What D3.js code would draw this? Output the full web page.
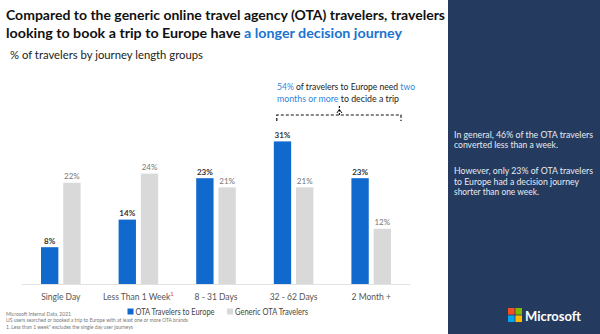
<!DOCTYPE html>
<html><head><meta charset="utf-8">
<script src="https://cdn.jsdelivr.net/npm/d3@7"></script>
<style>html,body{margin:0;padding:0;background:#fff;}svg{display:block;font-family:Lato,"Open Sans",sans-serif;}</style>
</head><body>
<svg id="c" width="600" height="334"></svg>
<script>
const categories = ["Single Day", "Less Than 1 Week", "8 - 31 Days", "32 - 62 Days", "2 Month +"];
const seriesNames = ["OTA Travelers to Europe", "Generic OTA Travelers"];
const europeValues = [8, 14, 23, 31, 23];
const genericValues = [22, 24, 21, 21, 12];
const seriesColors = ["#1169CD", "#D9D9D9"];

const svg = d3.select("#c");
const FF = "Lato,'Open Sans',sans-serif";
// right panel
svg.append("rect").attr("x", 448).attr("y", 0).attr("width", 152).attr("height", 334).attr("fill", "#243A5E");

// title
svg.append("text").attr("x", 6).attr("y", 20).attr("font-size", 14).attr("font-weight", 700).attr("fill", "#111")
  .attr("textLength", 439).attr("lengthAdjust", "spacingAndGlyphs")
  .text("Compared to the generic online travel agency (OTA) travelers, travelers");
const t2 = svg.append("text").attr("x", 6).attr("y", 37.5).attr("font-size", 14).attr("font-weight", 700).attr("fill", "#111").attr("textLength", 396).attr("lengthAdjust", "spacingAndGlyphs");
t2.append("tspan").text("looking to book a trip to Europe have ");
t2.append("tspan").attr("fill", "#1A73CF").text("a longer decision journey");

svg.append("text").attr("x", 10).attr("y", 59).attr("font-size", 10.5).attr("fill", "#222")
  .attr("textLength", 193).attr("lengthAdjust", "spacingAndGlyphs").text("% of travelers by journey length groups");

// scales
const x0 = d3.scaleBand().domain(categories).range([22, 410]).paddingInner(0.49).paddingOuter(0.245);
const x1 = d3.scaleBand().domain(seriesNames).range([0, x0.bandwidth()]).paddingInner(0.22);
const y = d3.scaleLinear().domain([0, 35]).range([284, 123]);

const data = categories.map((c, i) => ({cat: c, vals: [europeValues[i], genericValues[i]]}));

// baseline
svg.append("line").attr("x1", 22).attr("x2", 410).attr("y1", y(0) + 0.5).attr("y2", y(0) + 0.5).attr("stroke", "#E3E3E3").attr("stroke-width", 1);

const g = svg.selectAll("g.grp").data(data).join("g").attr("class", "grp").attr("transform", d => `translate(${x0(d.cat)},0)`);
g.selectAll("rect").data(d => d.vals.map((v, j) => ({s: seriesNames[j], v, j}))).join("rect")
  .attr("x", d => x1(d.s)).attr("y", d => y(d.v)).attr("width", x1.bandwidth()).attr("height", d => y(0) - y(d.v))
  .attr("fill", d => seriesColors[d.j]);
g.selectAll("text.lbl").data(d => d.vals.map((v, j) => ({s: seriesNames[j], v, j}))).join("text").attr("class", "lbl")
  .attr("x", d => x1(d.s) + x1.bandwidth() / 2).attr("y", d => y(d.v) - 3.5).attr("text-anchor", "middle")
  .attr("font-size", 8).attr("font-weight", d => d.j === 0 ? 700 : 400).attr("fill", d => d.j === 0 ? "#333" : "#777")
  .text(d => d.v + "%");

// x axis labels
const ax = svg.append("g").attr("transform", `translate(0,${y(0)})`).call(d3.axisBottom(x0).tickSize(0).tickPadding(0));
ax.select(".domain").remove();
ax.selectAll("text").attr("font-family", FF).attr("font-size", 8.5).attr("fill", "#555").attr("dy", 15.5).attr("y", 0);
ax.selectAll("text").filter(d => d === "Less Than 1 Week").each(function () {
  const el = d3.select(this);
  el.text(null);
  el.append("tspan").text("Less Than 1 Week");
  el.append("tspan").attr("fill", "#E2472F").attr("font-size", 6).attr("dy", -4).text("1");
});

// legend
const leg = svg.append("g").attr("transform", "translate(0,311.5)");
const legX = [127.5, 227], legW = [79, 73];
seriesNames.forEach((s, i) => {
  leg.append("rect").attr("x", legX[i]).attr("y", -3).attr("width", 6).attr("height", 6).attr("fill", seriesColors[i]);
  leg.append("text").attr("x", legX[i] + 8).attr("y", 3.3).attr("font-size", 9).attr("fill", "#444")
    .attr("textLength", legW[i]).attr("lengthAdjust", "spacingAndGlyphs").text(s);
});

// footnotes
const notes = ["Microsoft Internal Data, 2021", "US users searched or booked a trip to Europe with at least one or more OTA brands", "1. Less than 1 week\" excludes the single day user journeys"];
notes.forEach((n, i) => svg.append("text").attr("x", 6).attr("y", 316 + i * 6.3).attr("font-size", 5).attr("fill", "#777").text(n));

// annotation
const a1 = svg.append("text").attr("x", 277).attr("y", 90).attr("font-size", 8.5).attr("fill", "#222")
  .attr("textLength", 138).attr("lengthAdjust", "spacingAndGlyphs");
a1.append("tspan").attr("fill", "#2E86DE").text("54%");
a1.append("tspan").text(" of travelers to Europe need ");
a1.append("tspan").attr("fill", "#2E86DE").text("two");
const a2 = svg.append("text").attr("x", 277).attr("y", 101.5).attr("font-size", 8.5).attr("fill", "#222")
  .attr("textLength", 122).attr("lengthAdjust", "spacingAndGlyphs");
a2.append("tspan").attr("fill", "#2E86DE").text("months or more");
a2.append("tspan").text(" to decide a trip");

const bx1 = x0("32 - 62 Days") + 3, bx2 = x0("2 Month +") + x0.bandwidth() + 10, by = 115;
const br = svg.append("g").attr("stroke", "#111").attr("fill", "none").attr("stroke-width", 1.2);
br.append("path").attr("d", `M${bx1},${by + 6}V${by}H${bx2}V${by + 6}`).attr("stroke-dasharray", "3,2");
const bm = (bx1 + bx2) / 2 + 0.5;
br.append("path").attr("d", `M${bm},${by}V${by - 9}`).attr("stroke-dasharray", "2,1.5");
br.append("path").attr("d", `M${bm - 2.5},${by - 2}L${bm},${by - 5.5}L${bm + 2.5},${by - 2}`).attr("stroke-width", 1);

// panel text
const pt = [["In general, 46% of the OTA travelers", 137.5, 139], ["converted less than a week.", 148, 104], ["However, only 23% of OTA travelers", 174, 139], ["to Europe had a decision journey", 184.5, 125], ["shorter than one week.", 195, 85]];
pt.forEach(([s, yy, w]) => svg.append("text").attr("x", 454).attr("y", yy).attr("font-size", 9).attr("fill", "#E6EBF2")
  .attr("textLength", w).attr("lengthAdjust", "spacingAndGlyphs").text(s));

// microsoft logo
const lx = 508, ly = 308, q = 6.6, gp = 0.8;
[["#F25022", 0, 0], ["#7FBA00", 1, 0], ["#00A4EF", 0, 1], ["#FFB900", 1, 1]].forEach(([c, i, j]) =>
  svg.append("rect").attr("x", lx + i * (q + gp)).attr("y", ly + j * (q + gp)).attr("width", q).attr("height", q).attr("fill", c));
svg.append("text").attr("x", 525).attr("y", 320.5).attr("font-size", 12.5).attr("font-weight", 700).attr("fill", "#fff")
  .attr("textLength", 56).attr("lengthAdjust", "spacingAndGlyphs").text("Microsoft");
</script>
</body></html>
